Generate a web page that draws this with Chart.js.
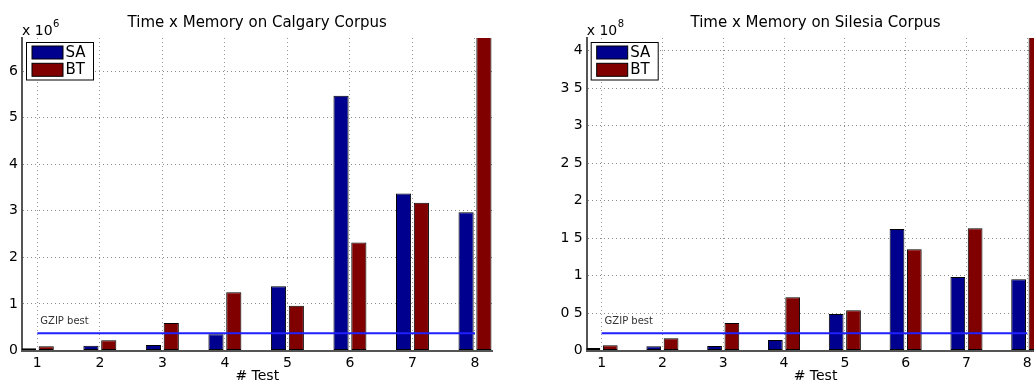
<!DOCTYPE html>
<html>
<head>
<meta charset="utf-8">
<script src="https://cdn.jsdelivr.net/npm/chart.js@4.4.0/dist/chart.umd.min.js"></script>
<style>
  html, body { margin: 0; padding: 0; background: #fff; overflow: hidden; width: 1034px; height: 380px; }
  canvas { position: absolute; top: 0; }
  #calgary { left: 0; }
  #silesia { left: 540px; }
</style>
</head>
<body>
<canvas id="calgary" width="520" height="380"></canvas>
<canvas id="silesia" width="510" height="380"></canvas>
<script>
const tests = [1, 2, 3, 4, 5, 6, 7, 8];

// Calgary corpus, values in units of 10^6
const calgarySA = [0.05, 0.10, 0.12, 0.35, 1.38, 5.47, 3.37, 2.97];
const calgaryBT = [0.09, 0.22, 0.59, 1.25, 0.96, 2.32, 3.17, 6.9];
const calgaryGzip = 0.37;
const calgaryTicks = ['0', '1', '2', '3', '4', '5', '6'];

// Silesia corpus, values in units of 10^8
const silesiaSA = [0.033, 0.056, 0.06, 0.14, 0.488, 1.62, 0.98, 0.95];
const silesiaBT = [0.07, 0.163, 0.367, 0.71, 0.537, 1.35, 1.63, 4.3];
const silesiaGzip = 0.23;
const silesiaTicks = ['0', '0 5', '1', '1 5', '2', '2 5', '3', '3 5', '4'];

const FONT = '"DejaVu Sans", "Liberation Sans", Arial, sans-serif';
const SA_COLOR = 'rgb(0,0,143)';
const BT_COLOR = 'rgb(128,0,0)';

// title, exponent, axis label, gzip label and boxed legend
const deco = {
  id: 'deco',
  afterDraw(chart, args, opts) {
    const ctx = chart.ctx, ca = chart.chartArea;
    const xs = chart.scales.x, ys = chart.scales.y;
    const mid = (ca.left + ca.right) / 2;
    ctx.save();
    ctx.fillStyle = '#000';
    ctx.textBaseline = 'alphabetic';
    ctx.textAlign = 'center';
    ctx.font = '15px ' + FONT;
    ctx.fillText(opts.title, mid, 27);
    ctx.font = '14px ' + FONT;
    ctx.fillText('# Test', mid, 380);

    ctx.textAlign = 'left';
    ctx.fillText('x 10', ca.left, 34.5);
    const w = ctx.measureText('x 10').width;
    ctx.font = '10px ' + FONT;
    ctx.fillText(opts.exponent, ca.left + w + 0.5, 27);

    ctx.fillStyle = '#333';
    ctx.fillText('GZIP best', xs.getPixelForValue(1) + 3, ys.getPixelForValue(opts.gzip) - 9);

    // legend
    const lx = ca.left + 4.5, ly = 42.5;
    ctx.font = '15px ' + FONT;
    ctx.fillStyle = '#fff';
    ctx.strokeStyle = '#000';
    ctx.lineWidth = 1;
    ctx.fillRect(lx, ly, 67, 37.5);
    ctx.strokeRect(lx, ly, 67, 37.5);
    ctx.textBaseline = 'middle';
    chart.data.datasets.slice(0, 2).forEach((ds, i) => {
      const sy = ly + 3.5 + i * 17.3;
      ctx.fillStyle = ds.backgroundColor;
      ctx.fillRect(lx + 5.5, sy, 31, 13);
      ctx.strokeRect(lx + 5.5, sy, 31, 13);
      ctx.fillStyle = '#000';
      ctx.fillText(ds.label, lx + 39, sy + 7);
    });
    ctx.restore();
  }
};

function makeChart(id, sa, bt, gzip, yMax, step, tickLabels, axisWidth, padRight, title, exponent) {
  return new Chart(document.getElementById(id), {
    type: 'bar',
    data: {
      datasets: [{
        label: 'SA',
        data: tests.map((t, i) => ({ x: t, y: sa[i] })),
        backgroundColor: SA_COLOR,
        borderColor: '#000',
        borderWidth: 1,
        borderSkipped: false
      }, {
        label: 'BT',
        data: tests.map((t, i) => ({ x: t, y: bt[i] })),
        backgroundColor: BT_COLOR,
        borderColor: '#000',
        borderWidth: 1,
        borderSkipped: false
      }, {
        type: 'line',
        label: 'GZIP best',
        data: [{ x: tests[0], y: gzip }, { x: tests[tests.length - 1], y: gzip }],
        borderColor: '#1f1fff',
        borderWidth: 2,
        pointRadius: 0,
        order: -1
      }]
    },
    options: {
      responsive: false,
      animation: false,
      categoryPercentage: 0.57,
      barPercentage: 0.85,
      layout: { padding: { top: 38, right: padRight, left: 0, bottom: 0 } },
      plugins: {
        legend: { display: false },
        title: { display: false },
        tooltip: { enabled: false },
        deco: { title: title, exponent: exponent, gzip: gzip }
      },
      scales: {
        x: {
          type: 'linear',
          min: 0.755,
          max: 8.28,
          offset: false,
          grid: { offset: false, color: '#999', drawTicks: false },
          border: { display: true, color: '#555', width: 2, dash: [1, 3] },
          ticks: { stepSize: 1, includeBounds: false, padding: 4, color: '#000', font: { family: FONT, size: 14 } },
          afterFit(s) { s.height = 29.5; }
        },
        y: {
          min: 0,
          max: yMax,
          grid: { color: '#8a8a8a', drawTicks: false },
          border: { display: true, color: '#555', width: 2, dash: [1, 3] },
          ticks: {
            stepSize: step,
            includeBounds: false,
            padding: 4,
            color: '#000',
            font: { family: FONT, size: 14 },
            callback: (v) => tickLabels[Math.round(v / step)]
          },
          afterFit(s) { s.width = axisWidth; }
        }
      }
    },
    plugins: [deco]
  });
}

makeChart('calgary', calgarySA, calgaryBT, calgaryGzip, 6.71, 1, calgaryTicks, 22, 27.5,
  'Time x Memory on Calgary Corpus', '6');
makeChart('silesia', silesiaSA, silesiaBT, silesiaGzip, 4.17, 0.5, silesiaTicks, 46.7, 5.7,
  'Time x Memory on Silesia Corpus', '8');
</script>
</body>
</html>
